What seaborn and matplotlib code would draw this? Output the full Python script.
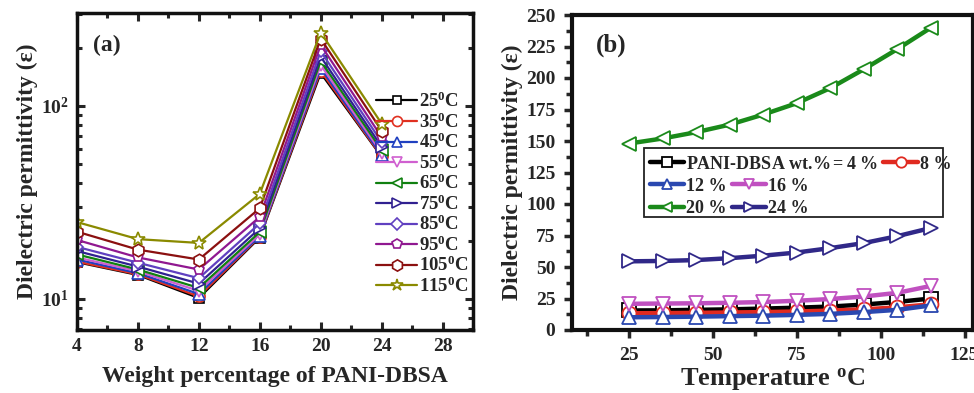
import numpy as np
import pandas as pd
import matplotlib
matplotlib.use("Agg")
import matplotlib.pyplot as plt
from matplotlib.ticker import MultipleLocator, FixedLocator, LogLocator, NullFormatter
from matplotlib.patches import Rectangle
import seaborn as sns

# ---------------- data ----------------
wt_pct = [4, 8, 12, 16, 20, 24]
temps = [25, 35, 45, 55, 65, 75, 85, 95, 105, 115]
eps_4 = [15.5, 15.6, 16.0, 16.4, 17.0, 17.7, 18.6, 20.2, 22.3, 25.0]
eps_8 = [13.3, 13.4, 13.6, 13.9, 14.2, 14.7, 15.4, 16.4, 18.0, 20.4]
eps_12 = [10.1, 10.3, 10.6, 11.0, 11.4, 12.0, 12.8, 14.2, 16.0, 19.5]
eps_16 = [20.8, 21.0, 21.2, 21.6, 22.2, 23.2, 24.6, 26.6, 29.5, 35.0]
eps_20 = [148, 152, 157, 163, 171, 180, 192, 207, 223, 240]
eps_24 = [54.5, 54.8, 55.5, 57.0, 59.0, 61.5, 65.0, 69.0, 74.5, 81.0]
series_by_wt = [eps_4, eps_8, eps_12, eps_16, eps_20, eps_24]
temp_labels = ["25$^0$C", "35$^0$C", "45$^0$C", "55$^0$C", "65$^0$C",
               "75$^0$C", "85$^0$C", "95$^0$C", "105$^0$C", "115$^0$C"]
wt_labels = ["PANI-DBSA wt.%$=$4 %", "8 %", "12 %", "16 %", "20 %", "24 %"]

rows = []
for w, vals in zip(wt_pct, series_by_wt):
    for t, v in zip(temps, vals):
        rows.append({"wt": w, "temp": t, "eps": v})
df = pd.DataFrame(rows)

# ---------------- style ----------------
sns.set_theme(style="ticks")
plt.rcParams["font.family"] = ["Liberation Serif", "DejaVu Serif"]
plt.rcParams["font.weight"] = "bold"
plt.rcParams["mathtext.fontset"] = "custom"
plt.rcParams["mathtext.rm"] = "Liberation Serif:bold"
plt.rcParams["mathtext.it"] = "Liberation Serif:bold"
plt.rcParams["mathtext.bf"] = "Liberation Serif:bold"
plt.rcParams["mathtext.default"] = "bf"

fig = plt.figure(figsize=(9.74, 3.93), dpi=100)
W, H = 974, 393
ax1 = fig.add_axes([77 / W, (H - 330) / H, 396 / W, 317 / H])
ax2 = fig.add_axes([572 / W, (H - 330) / H, 401 / W, 315 / H])

# ---------------- panel (a) ----------------
colors_a = ["#000000", "#e03020", "#2040c0", "#d060d0", "#108010",
            "#302090", "#6040c0", "#901890", "#8b1010", "#8a8a00"]
markers_a = ["s", "o", "^", "v", "<", ">", "D", "p", "h", "*"]
msize_a = [7, 8, 8, 8, 8, 8, 6.5, 8, 9, 10]
for t, lab, c, m, ms in zip(temps, temp_labels, colors_a, markers_a, msize_a):
    sub = df[df["temp"] == t]
    sns.lineplot(data=sub, x="wt", y="eps", ax=ax1, color=c, marker=m,
                 markersize=ms, markerfacecolor="white", markeredgecolor=c,
                 markeredgewidth=1.2, linewidth=1.6, label=lab)
ax1.set_yscale("log")
ax1.set_xlim(4, 30)
ax1.set_ylim(6.9, 303)
ax1.xaxis.set_major_locator(FixedLocator([4, 8, 12, 16, 20, 24, 28]))
ax1.xaxis.set_minor_locator(MultipleLocator(2))
ax1.yaxis.set_major_locator(LogLocator(base=10, numticks=10))
ax1.yaxis.set_minor_locator(LogLocator(base=10, subs=np.arange(2, 10), numticks=20))
ax1.yaxis.set_minor_formatter(NullFormatter())
ax1.tick_params(which="both", direction="in", top=True, right=True, width=2.2)
ax1.tick_params(which="major", length=6, labelsize=14, pad=6)
ax1.tick_params(which="minor", length=3.5)
ax1.set_xlabel("Weight percentage of PANI-DBSA", fontsize=17, fontweight="bold", labelpad=8)
ax1.set_ylabel("Dielectric permittivity (ε)", fontsize=17, fontweight="bold", labelpad=2)
for sp in ax1.spines.values():
    sp.set_linewidth(2.5)
    sp.set_color("#111111")
ax1.text(0.04, 0.88, "(a)", transform=ax1.transAxes, fontsize=17, fontweight="bold")
leg1 = ax1.legend(loc="center right", bbox_to_anchor=(1.012, 0.43), frameon=False,
                  fontsize=13.5, handlelength=2.2, handletextpad=0.1,
                  labelspacing=0.06, borderaxespad=0.1, markerscale=0.9)

# ---------------- panel (b) ----------------
colors_b = ["#000000", "#e02a20", "#2a48b0", "#c050c0", "#1a8a1a", "#302888"]
markers_b = ["s", "o", "^", "v", "<", ">"]
handles = {}
for w, lab, c, m in zip(wt_pct, wt_labels, colors_b, markers_b):
    sub = df[df["wt"] == w]
    sns.lineplot(data=sub, x="temp", y="eps", ax=ax2, color=c, marker=m,
                 markersize=10, markerfacecolor="white", markeredgecolor=c,
                 markeredgewidth=1.3, linewidth=3.2, label=lab, legend=False)
    handles[w] = ax2.lines[-1]
ax2.set_xlim(8, 127.5)
ax2.set_ylim(0, 250)
ax2.xaxis.set_major_locator(MultipleLocator(25))
ax2.xaxis.set_minor_locator(MultipleLocator(12.5))
ax2.yaxis.set_major_locator(MultipleLocator(25))
ax2.yaxis.set_minor_locator(MultipleLocator(12.5))
ax2.tick_params(which="both", direction="out", width=2.5)
ax2.tick_params(which="major", length=6, labelsize=14, pad=6)
ax2.tick_params(which="minor", length=4)
ax2.set_xlabel("Temperature $^o$C", fontsize=19, fontweight="bold", labelpad=2)
ax2.set_ylabel("Dielectric permittivity (ε)", fontsize=17, fontweight="bold", labelpad=2)
for sp in ax2.spines.values():
    sp.set_linewidth(3)
    sp.set_color("#111111")
ax2.text(0.06, 0.885, "(b)", transform=ax2.transAxes, fontsize=18, fontweight="bold")

legA = ax2.legend([handles[4], handles[8]], [wt_labels[0], wt_labels[1]],
                  ncol=2, frameon=False, loc="upper left",
                  bbox_to_anchor=(0.185, 0.565), fontsize=13, handlelength=1.9,
                  handletextpad=0.1, columnspacing=0.3, borderaxespad=0,
                  borderpad=0.2, markerscale=0.75)
ax2.add_artist(legA)
legB = ax2.legend([handles[12], handles[20], handles[16], handles[24]],
                  [wt_labels[2], wt_labels[4], wt_labels[3], wt_labels[5]],
                  ncol=2, frameon=False, loc="upper left",
                  bbox_to_anchor=(0.185, 0.495), fontsize=13, handlelength=1.9,
                  handletextpad=0.1, columnspacing=0.3, borderaxespad=0,
                  borderpad=0.2, labelspacing=0.3, markerscale=0.75)
ax2.add_patch(Rectangle((0.18, 0.359), 0.745, 0.219, transform=ax2.transAxes,
                        fill=False, edgecolor="#222222", linewidth=1.3, zorder=5))

fig.savefig("out.png", dpi=100)
